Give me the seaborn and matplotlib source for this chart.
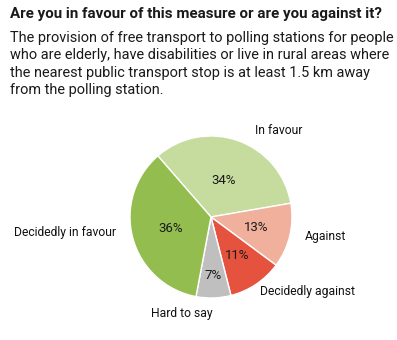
import numpy as np
import matplotlib
matplotlib.use("Agg")
import matplotlib.pyplot as plt
import seaborn as sns

categories = ["In favour", "Against", "Decidedly against", "Hard to say", "Decidedly in favour"]
values = [34, 13, 11, 7, 36]
pct_labels = ["34%", "13%", "11%", "7%", "36%"]
colors = ["#c5dc9e", "#f1b09b", "#e5533f", "#bfbfbf", "#93be4f"]

title = "Are you in favour of this measure or are you against it?"
subtitle = ("The provision of free transport to polling stations for people\n"
            "who are elderly, have disabilities or live in rural areas where\n"
            "the nearest public transport stop is at least 1.5 km away\n"
            "from the polling station.")

sns.set_theme(style="white")
plt.rcParams['font.family'] = ['Roboto', 'DejaVu Sans']

W, H = 397, 340
fig = plt.figure(figsize=(W / 100, H / 100), dpi=100)
ax = fig.add_axes([0, 0, 1, 1])
cx, cy, R = 211, 217, 81

wedges, texts = ax.pie(values, colors=colors, startangle=131, counterclock=False,
                       radius=1, center=(0, 0),
                       wedgeprops=dict(edgecolor='white', linewidth=1.0))
ax.set_xlim(-cx / R, (W - cx) / R)
ax.set_ylim(-(H - cy) / R, cy / R)
ax.set_aspect('equal')
ax.axis('off')

# percent labels and category labels placed along each wedge
pct_dist = [0.48, 0.57, 0.57, 0.72, 0.52]
lab_pos = [(1.35, 52), (1.43, -9.5), (1.51, -37.7), (1.25, -107), (1.81, 186)]
for w, p, d, (ld, la), name in zip(wedges, pct_labels, pct_dist, lab_pos, categories):
    mid = np.deg2rad((w.theta1 + w.theta2) / 2)
    ax.text(d * np.cos(mid), d * np.sin(mid), p, ha='center', va='center',
            fontsize=9.5, color='#1a1a1a')
    a = np.deg2rad(la)
    ax.text(ld * np.cos(a), ld * np.sin(a), name, ha='center', va='center',
            fontsize=8.7, color='#111111')

fig.text(10 / W, 1 - 18 / H, title, fontsize=10.9, fontweight='bold',
         color='#1a1a1a', ha='left', va='baseline')
fig.text(10 / W, 1 - 31 / H, subtitle, fontsize=10.45, color='#1a1a1a',
         ha='left', va='top', linespacing=1.3)
fig.savefig("out.png", dpi=100)
